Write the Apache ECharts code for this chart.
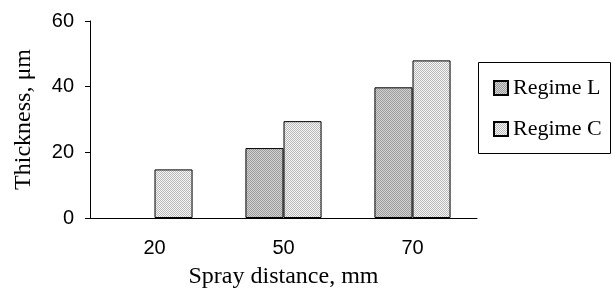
<!DOCTYPE html>
<html>
<head>
<meta charset="utf-8">
<script src="https://cdn.jsdelivr.net/npm/echarts@6/dist/echarts.min.js"></script>
<style>
  html, body { margin: 0; padding: 0; background: #fff; }
  #chart { width: 613px; height: 288px; }
</style>
</head>
<body>
<div id="chart"></div>
<script>
// data
var distances = ['20', '50', '70'];
var regimeL = [null, 21.3, 39.8];
var regimeC = [14.8, 29.5, 48];
var yTicks = [0, 20, 40, 60];

// small dotted fills like the original print patterns
function makePattern(a, b) {
  var c = document.createElement('canvas');
  c.width = 2; c.height = 2;
  var ctx = c.getContext('2d');
  ctx.fillStyle = b; ctx.fillRect(0, 0, 2, 2);
  ctx.fillStyle = a;
  ctx.fillRect(0, 0, 1, 1);
  ctx.fillRect(1, 1, 1, 1);
  return c;
}
var fillL = { image: makePattern('#9a9a9a', '#d4d4d4'), repeat: 'repeat' };
var fillC = { image: makePattern('#b8b8b8', '#f6f6f6'), repeat: 'repeat' };

var serif = '"Liberation Serif", "DejaVu Serif", serif';
var sans = '"Liberation Sans", Arial, sans-serif';

var chart = echarts.init(document.getElementById('chart'));
chart.setOption({
  animation: false,
  grid: { left: 90, right: 136, top: 21, bottom: 70, containLabel: false, outerBoundsMode: 'none' },
  legend: {
    orient: 'vertical',
    left: 488,
    top: 72,
    itemWidth: 14,
    itemHeight: 14,
    itemGap: 19,
    icon: 'rect',
    textStyle: { fontFamily: serif, fontSize: 22, color: '#000' },
    data: ['Regime L', 'Regime C']
  },
  graphic: [{
    type: 'rect',
    shape: { x: 478.5, y: 62.5, width: 132, height: 91 },
    style: { fill: 'none', stroke: '#000', lineWidth: 1 },
    z: -1
  }],
  xAxis: {
    type: 'category',
    data: distances,
    name: 'Spray distance, mm',
    nameLocation: 'middle',
    nameGap: 47,
    nameTextStyle: { fontFamily: serif, fontSize: 24, color: '#000' },
    axisLine: { lineStyle: { color: '#000', width: 1 } },
    axisTick: { length: 6, lineStyle: { color: '#000' } },
    axisLabel: { fontFamily: sans, fontSize: 20, color: '#000', margin: 20 }
  },
  yAxis: {
    type: 'value',
    min: 0,
    max: 60,
    interval: 20,
    name: 'Thickness, μm',
    nameLocation: 'middle',
    nameGap: 54,
    nameTextStyle: { fontFamily: serif, fontSize: 24, color: '#000' },
    axisLine: { show: true, lineStyle: { color: '#000', width: 1 } },
    axisTick: { show: true, length: 5, lineStyle: { color: '#000' } },
    axisLabel: {
      fontFamily: sans, fontSize: 20, color: '#000', margin: 16,
      formatter: function (v) { return yTicks.indexOf(v) >= 0 ? String(v) : ''; }
    },
    splitLine: { show: false }
  },
  series: [
    {
      name: 'Regime L',
      type: 'bar',
      data: regimeL,
      barGap: 0,
      barCategoryGap: '41%',
      itemStyle: { color: fillL, borderColor: '#000', borderWidth: 1 }
    },
    {
      name: 'Regime C',
      type: 'bar',
      data: regimeC,
      itemStyle: { color: fillC, borderColor: '#000', borderWidth: 1 }
    }
  ]
});
</script>
</body>
</html>
